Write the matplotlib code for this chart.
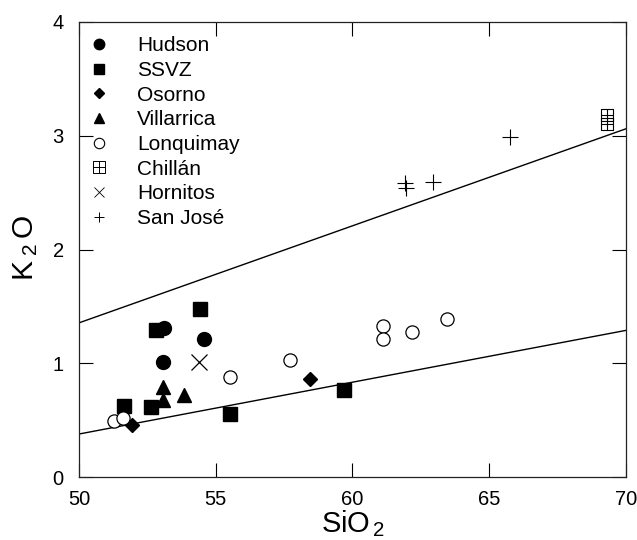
import matplotlib
matplotlib.use("Agg")
import matplotlib.pyplot as plt
from matplotlib.path import Path

plt.rcParams['font.family'] = ['Liberation Sans', 'DejaVu Sans']
plt.rcParams['mathtext.fontset'] = 'custom'
plt.rcParams['mathtext.rm'] = 'Liberation Sans'
plt.rcParams['mathtext.it'] = 'Liberation Sans'

# ---- data ----
hudson_x = [53.11, 54.57, 53.08]
hudson_y = [1.31, 1.21, 1.01]
ssvz_x = [54.42, 52.82, 51.65, 52.63, 55.52, 59.69]
ssvz_y = [1.48, 1.29, 0.63, 0.62, 0.56, 0.77]
osorno_x = [51.93, 58.45]
osorno_y = [0.46, 0.86]
villarrica_x = [53.06, 53.06, 53.84]
villarrica_y = [0.79, 0.68, 0.72]
lonquimay_x = [51.29, 51.62, 55.52, 57.71, 61.13, 61.13, 62.16, 63.47]
lonquimay_y = [0.49, 0.52, 0.88, 1.03, 1.33, 1.21, 1.28, 1.39]
chillan_x = [69.3, 69.3]
chillan_y = [3.18, 3.10]
hornitos_x = [54.39]
hornitos_y = [1.01]
sanjose_x = [61.92, 61.95, 62.93, 65.76]
sanjose_y = [2.58, 2.54, 2.59, 2.99]

line_x = [50, 70]
upper_line_y = [1.356, 3.06]
lower_line_y = [0.38, 1.29]

x_ticks = [50, 55, 60, 65, 70]
y_ticks = [0, 1, 2, 3, 4]

# ---- figure ----
fig = plt.figure(figsize=(6.37, 5.4), dpi=100)
ax = fig.add_axes([0.124, 0.1161, 0.8587, 0.8437])

ax.plot(line_x, upper_line_y, color='black', lw=1.0, zorder=1)
ax.plot(line_x, lower_line_y, color='black', lw=1.0, zorder=1)

# square-with-cross marker for Chillan
sq_verts = [(-1, -1), (1, -1), (1, 1), (-1, 1), (-1, -1),
            (0, -1), (0, 1), (-1, 0), (1, 0)]
sq_codes = [Path.MOVETO, Path.LINETO, Path.LINETO, Path.LINETO, Path.CLOSEPOLY,
            Path.MOVETO, Path.LINETO, Path.MOVETO, Path.LINETO]
boxplus = Path(sq_verts, sq_codes)

k = dict(linestyle='none', color='black', zorder=3)
ax.plot(hudson_x, hudson_y, marker='o', ms=10, label='Hudson', **k)
ax.plot(ssvz_x, ssvz_y, marker='s', ms=10, label='SSVZ', **k)
ax.plot(osorno_x, osorno_y, marker='D', ms=7, label='Osorno', **k)
ax.plot(villarrica_x, villarrica_y, marker='^', ms=10.5, label='Villarrica', **k)
ax.plot(lonquimay_x, lonquimay_y, marker='o', ms=9.5, mfc='white', mec='black',
        mew=0.9, label='Lonquimay', **k)
ax.plot(chillan_x, chillan_y, marker=boxplus, ms=8.5, mfc='none', mec='black',
        mew=0.8, label='Chillán', **k)
ax.plot(hornitos_x, hornitos_y, marker='x', ms=11, mew=0.9, label='Hornitos', **k)
ax.plot(sanjose_x, sanjose_y, marker='+', ms=11, mew=0.8, label='San José', **k)

ax.set_xlim(50, 70)
ax.set_ylim(0, 4)
ax.set_xticks(x_ticks)
ax.set_yticks(y_ticks)
ax.tick_params(direction='in', length=10, width=0.8, top=True, right=True,
               labelsize=14.5, colors='black')
ax.tick_params(axis='x', pad=9)
ax.tick_params(axis='y', pad=11)
for s in ax.spines.values():
    s.set_linewidth(0.9)
    s.set_color('#222222')

fig.text(0.5535, 0.030, r'SiO$_{\,2}$', ha='center', va='center', fontsize=21)
fig.text(0.040, 0.541, r'K$_{\;2\;}$O', ha='center', va='center', fontsize=21.5,
         rotation=90)

leg = ax.legend(loc='upper left', bbox_to_anchor=(0.0169, 0.9676), frameon=False,
                borderaxespad=0, borderpad=0, numpoints=1, handlelength=1.0,
                handletextpad=1.35, labelspacing=0.27, fontsize=15)
legend_sizes = [7.5, 7.5, 5.2, 7.5, 7.5, 8.5, 7.2, 7.5]
legend_mew = [1.0, 1.0, 1.0, 1.0, 0.8, 0.7, 0.6, 0.7]
for h, ms, mw in zip(leg.legend_handles, legend_sizes, legend_mew):
    h.set_markersize(ms)
    h.set_markeredgewidth(mw)

fig.savefig('out.png', dpi=100)
